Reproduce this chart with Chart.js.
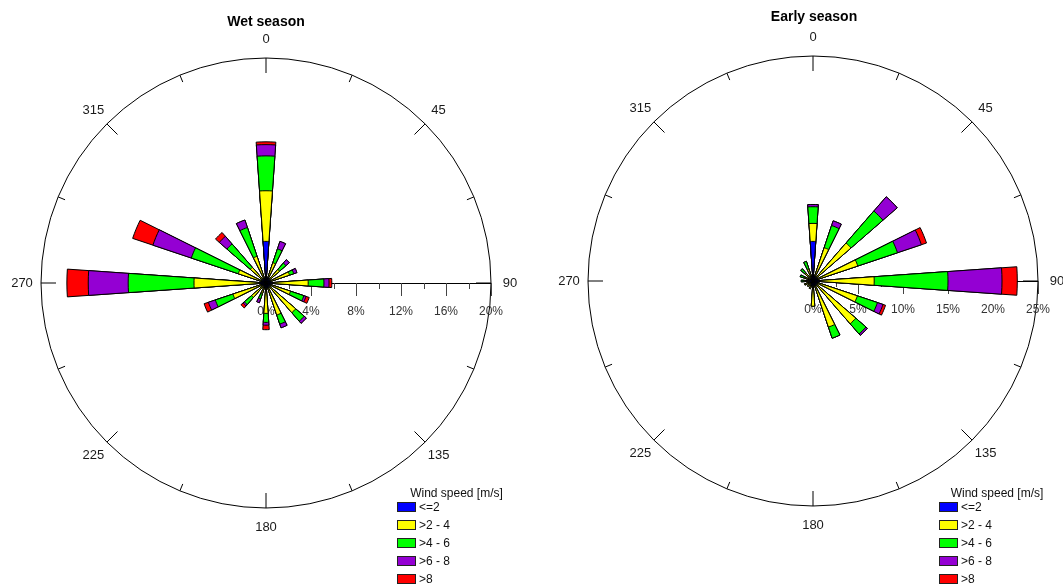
<!DOCTYPE html>
<html><head><meta charset="utf-8">
<script src="https://cdn.jsdelivr.net/npm/chart.js@4.4.1/dist/chart.umd.min.js"></script>
<style>
html,body{margin:0;padding:0;background:#fff;}
body{width:1063px;height:586px;position:relative;overflow:hidden;font-family:"Liberation Sans",Arial,sans-serif;color:#000;}
canvas{position:absolute;left:0;top:0;}
.title{position:absolute;font-weight:bold;font-size:14px;transform:translate(-50%,-50%);white-space:nowrap;}
.lgt{position:absolute;font-size:12px;transform:translate(-50%,-50%);white-space:nowrap;color:#111;}
.box{position:absolute;width:19px;height:10px;box-sizing:border-box;border:1px solid #222;}
.lgl{position:absolute;font-size:12px;transform:translateY(-50%);white-space:nowrap;color:#111;}
</style></head>
<body>
<canvas id="wet" width="1063" height="586"></canvas>
<canvas id="early" width="1063" height="586"></canvas>
<div class="title" style="left:266px;top:21px;">Wet season</div>
<div class="title" style="left:814px;top:16px;">Early season</div>
<div id="legends"></div>
<script>
// ---- data ----
const directions = [0,22.5,45,67.5,90,112.5,135,157.5,180,202.5,225,247.5,270,292.5,315,337.5];
const compassLabels = ['0','45','90','135','180','225','270','315'];
const speedClasses = ['<=2','>2 - 4','>4 - 6','>6 - 8','>8'];
const speedColors = ['#0000FF','#FFFF00','#00FF00','#9400D3','#FF0000'];
const legendTitle = 'Wind speed [m/s]';

// Wet season: frequency (%) per direction for each speed class
const wetLe2  = [3.7,0.5,0.4,0.4,0.5,0.4,0.4,0.4,0.4,0.3,0.3,0.4,0.5,0.4,0.4,0.4];
const wet2to4 = [4.5,1.4,1.2,1.8,3.25,1.9,3.1,2.6,2.3,0.7,1.4,2.7,5.9,2.2,1.45,2.1];
const wet4to6 = [3.1,1.3,0.75,0.4,1.4,1.25,1.0,0.85,0.8,0.5,0.85,1.65,5.85,4.4,2.75,2.7];
const wet6to8 = [1.0,0.7,0.4,0.3,0.45,0.2,0.25,0.35,0.25,0.35,0.15,0.65,3.55,3.6,0.9,0.7];
const wetGt8  = [0.25,0,0,0,0.25,0.3,0,0,0.4,0,0.25,0.4,1.9,1.9,0.45,0];
const wetTicks = [0,4,8,12,16,20];

// Early season
const earlyLe2  = [4.4,0.5,0.5,0.5,0.6,0.5,0.5,0.5,0.5,0.4,0.3,0.3,0.3,0.3,0.3,0.3];
const early2to4 = [2.0,3.4,5.1,4.75,6.2,4.7,5.8,4.9,2.3,0.5,0.5,0.7,0.6,0.7,0.9,1.1];
const early4to6 = [1.85,2.6,4.7,4.65,8.2,2.35,1.5,1.3,0,0,0,0,0.4,0.5,0.6,0.9];
const early6to8 = [0.25,0.55,2.1,2.8,6.0,0.65,0.2,0,0,0,0,0,0,0,0,0];
const earlyGt8  = [0,0,0,0.6,1.7,0.3,0,0,0,0,0,0,0,0,0,0];
const earlyTicks = [0,5,10,15,20,25];

// ---- drawing ----
const WEDGE = 8;                       // wedge width in degrees
const SPAN = 360 / directions.length;  // sector spacing
const FONT = '"Liberation Sans", Arial, sans-serif';

function buildDatasets(series) {
  const cum = directions.map(() => 0);
  return series.map((vals, k) => {
    const data = [];
    vals.forEach((v, i) => { cum[i] += v; data.push(+cum[i].toFixed(3)); data.push(0); });
    return {
      label: speedClasses[k],
      data,
      backgroundColor: ctx => ctx.dataIndex % 2 ? 'rgba(0,0,0,0)' : speedColors[k],
      borderColor: '#000',
      borderWidth: ctx => ctx.dataIndex % 2 ? 0 : 1,
      angle: ctx => ctx.dataIndex % 2 ? SPAN - WEDGE : WEDGE
    };
  });
}

const roseAxes = {
  id: 'roseAxes',
  beforeDatasetsDraw(chart, args, opts) {
    const s = chart.scales.r;
    const ctx = chart.ctx;
    const cx = s.xCenter, cy = s.yCenter, R = s.drawingArea;
    ctx.save();
    ctx.strokeStyle = '#000';
    ctx.lineWidth = 1;
    ctx.beginPath();
    ctx.arc(cx, cy, R, 0, Math.PI * 2);
    ctx.stroke();
    // compass ticks every 22.5 deg
    for (let k = 0; k < 16; k++) {
      const a = k * 22.5 * Math.PI / 180;
      const len = k % 2 === 0 ? 15 : 7.5;
      ctx.beginPath();
      ctx.moveTo(cx + R * Math.sin(a), cy - R * Math.cos(a));
      ctx.lineTo(cx + (R - len) * Math.sin(a), cy - (R - len) * Math.cos(a));
      ctx.stroke();
    }
    // compass labels
    ctx.fillStyle = '#1a1a1a';
    ctx.font = '13px ' + FONT;
    ctx.textAlign = 'center';
    ctx.textBaseline = 'middle';
    compassLabels.forEach((t, k) => {
      const a = k * 45 * Math.PI / 180;
      ctx.fillText(t, cx + 244 * Math.sin(a), cy - 244 * Math.cos(a));
    });
    // radial axis toward east
    const ticks = opts.ticks;
    ctx.beginPath();
    ctx.moveTo(cx, cy + 0.5);
    ctx.lineTo(cx + s.getDistanceFromCenterForValue(ticks[ticks.length - 1]), cy + 0.5);
    ctx.stroke();
    const step = ticks[1] - ticks[0];
    ctx.strokeStyle = '#444';
    for (let v = ticks[0]; v <= ticks[ticks.length - 1] + 1e-9; v += step / 2) {
      const x = Math.round(cx + s.getDistanceFromCenterForValue(v)) + 0.5;
      const major = ticks.some(t => Math.abs(t - v) < 1e-9);
      ctx.beginPath();
      ctx.moveTo(x, cy);
      ctx.lineTo(x, cy + (major ? 13 : 6));
      ctx.stroke();
    }
    ctx.font = '12px ' + FONT;
    ctx.fillStyle = '#333';
    ticks.forEach(v => {
      ctx.fillText(v + '%', cx + s.getDistanceFromCenterForValue(v), cy + 29);
    });
    ctx.restore();
  }
};

function makeRose(id, series, ticks, pad) {
  new Chart(document.getElementById(id), {
    type: 'polarArea',
    data: { labels: directions.flatMap(d => [String(d), '']), datasets: buildDatasets(series) },
    options: {
      responsive: false,
      animation: false,
      events: [],
      layout: { padding: pad },
      plugins: { legend: { display: false }, tooltip: { enabled: false }, roseAxes: { ticks } },
      scales: {
        r: {
          min: ticks[0], max: ticks[ticks.length - 1],
          startAngle: -WEDGE / 2,
          grid: { display: false },
          angleLines: { display: false },
          pointLabels: { display: false },
          ticks: { display: false }
        }
      }
    },
    plugins: [roseAxes]
  });
}

makeRose('wet', [wetLe2, wet2to4, wet4to6, wet6to8, wetGt8], wetTicks,
  { left: 41, top: 58, right: 1063 - 491, bottom: 586 - 508 });
makeRose('early', [earlyLe2, early2to4, early4to6, early6to8, earlyGt8], earlyTicks,
  { left: 588, top: 56, right: 1063 - 1038, bottom: 586 - 506 });

// legends
function legend(cx, boxLeft) {
  const host = document.getElementById('legends');
  const t = document.createElement('div');
  t.className = 'lgt'; t.style.left = cx + 'px'; t.style.top = '492.5px';
  t.textContent = legendTitle; host.appendChild(t);
  speedClasses.forEach((lab, i) => {
    const top = 502 + i * 17.9;
    const b = document.createElement('div');
    b.className = 'box'; b.style.left = boxLeft + 'px'; b.style.top = top + 'px';
    b.style.background = speedColors[i]; host.appendChild(b);
    const l = document.createElement('div');
    l.className = 'lgl'; l.style.left = (boxLeft + 22) + 'px'; l.style.top = (top + 5) + 'px';
    l.textContent = lab; host.appendChild(l);
  });
}
legend(456.5, 397);
legend(997, 939);
</script>
</body></html>
